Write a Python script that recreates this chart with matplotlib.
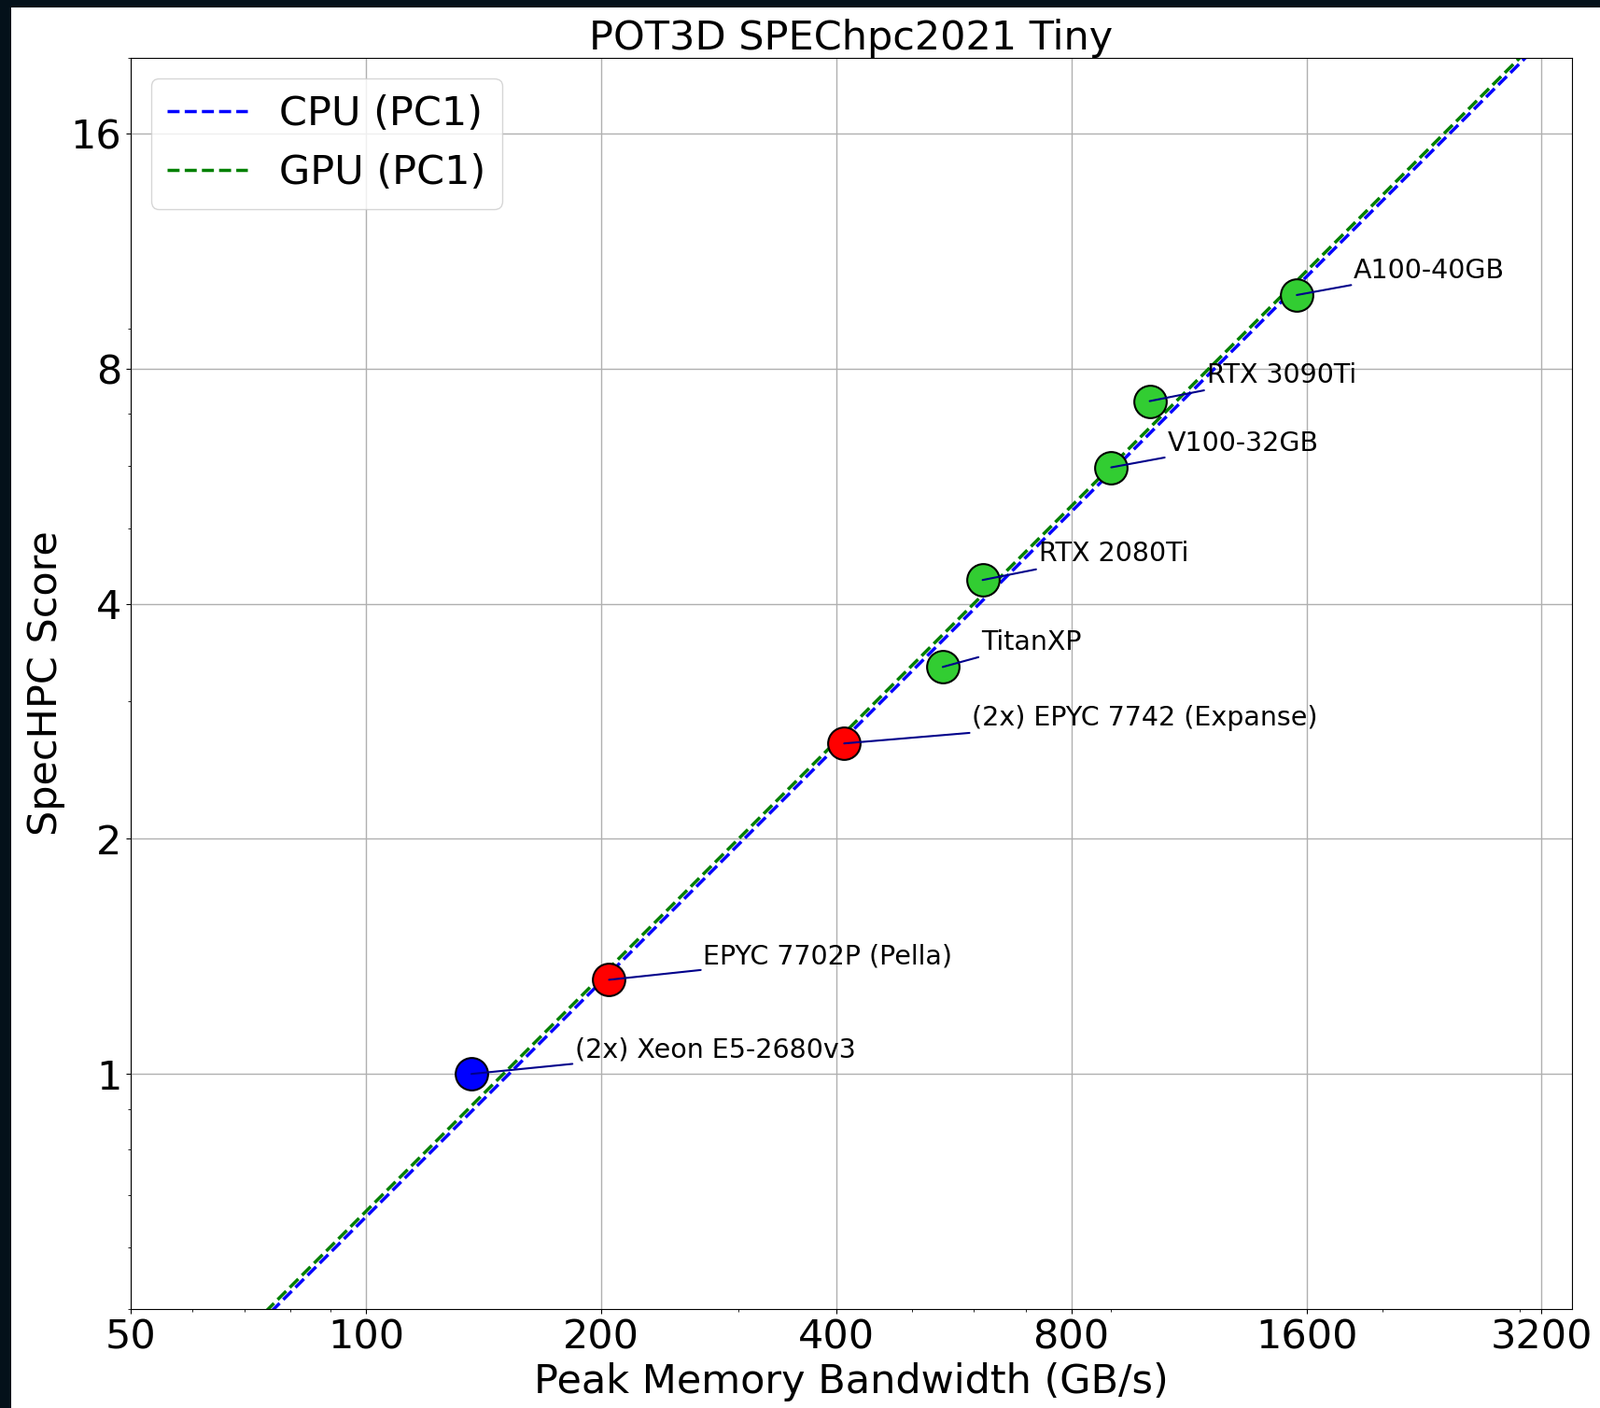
from matplotlib import pyplot as plt
from matplotlib.patches import Rectangle
import numpy as np

##########################
# data
##########################
names = ["(2x) Xeon E5-2680v3", "EPYC 7702P (Pella)", "(2x) EPYC 7742 (Expanse)",
         "TitanXP", "RTX 2080Ti", "V100-32GB", "RTX 3090Ti", "A100-40GB"]
kind = ["cpu_old", "cpu", "cpu", "gpu", "gpu", "gpu", "gpu", "gpu"]
bandwidth = [136.5, 204.8, 409.6, 547.7, 616.0, 900.0, 1008.0, 1555.0]  # GB/s
score = [1.0, 1.32, 2.65, 3.32, 4.29, 5.98, 7.27, 9.94]

# label offsets (pixels) from each point
lab_dx = [111, 101, 137, 41, 60, 60, 61, 61]
lab_dy = [26, 25, 27, 26, 28, 26, 28, 26]

# fits with power fixed to 1: score = bw / k
cpu_k = 152.5
gpu_k = 150.0

xticks = [50, 100, 200, 400, 800, 1600, 3200]
yticks = [1, 2, 4, 8, 16]
xlim = (50, 3500)
ylim = (0.5, 20)

kind_color = {"cpu_old": "blue", "cpu": "red", "gpu": "limegreen"}
fs = 31

##########################
# figure
##########################
fig = plt.figure(figsize=(17.15, 15.08), dpi=100)
fig.patch.set_facecolor("#04111a")
# white page sitting on the dark backdrop
fig.add_artist(Rectangle((12/1715, 0), 1 - 12/1715, 1 - 8/1508, transform=fig.transFigure,
                         facecolor="white", edgecolor="none", zorder=-10))

ax = fig.add_axes([140/1715, 1 - 1402/1508, 1544/1715, 1340/1508])
ax.set_xscale("log")
ax.set_yscale("log")

xfit = np.geomspace(xlim[0], xlim[1], 50)
ax.plot(xfit, xfit / cpu_k, "--", color="blue", lw=2.5, label="CPU (PC1)")
ax.plot(xfit, xfit / gpu_k, "--", color="green", lw=2.5, label="GPU (PC1)")

for bw, sc, k in zip(bandwidth, score, kind):
    ax.plot(bw, sc, "o", ms=25, color=kind_color[k], mec="black", mew=1.5)

for name, bw, sc, dx, dy in zip(names, bandwidth, score, lab_dx, lab_dy):
    ax.annotate(name, (bw, sc), xytext=(dx, dy), textcoords="offset pixels",
                fontsize=20.5, ha="left", va="center",
                arrowprops=dict(arrowstyle="-", color="darkblue", lw=1.5,
                                shrinkA=0, shrinkB=0))

ax.set_xlim(xlim)
ax.set_ylim(ylim)
ax.set_xticks(xticks, [str(t) for t in xticks])
ax.set_yticks(yticks, [str(t) for t in yticks])
ax.xaxis.set_minor_formatter(plt.NullFormatter())
ax.yaxis.set_minor_formatter(plt.NullFormatter())
ax.tick_params(labelsize=fs)
ax.grid(which="major", color="#b0b0b0", lw=1.0)

ax.set_xlabel("Peak Memory Bandwidth (GB/s)", fontsize=fs, labelpad=4)
ax.set_ylabel("SpecHPC Score", fontsize=fs)
ax.set_title("POT3D SPEChpc2021 Tiny", fontsize=fs, pad=4)
ax.legend(loc="upper left", fontsize=fs)

fig.savefig("out.png", dpi=100, facecolor=fig.get_facecolor())
